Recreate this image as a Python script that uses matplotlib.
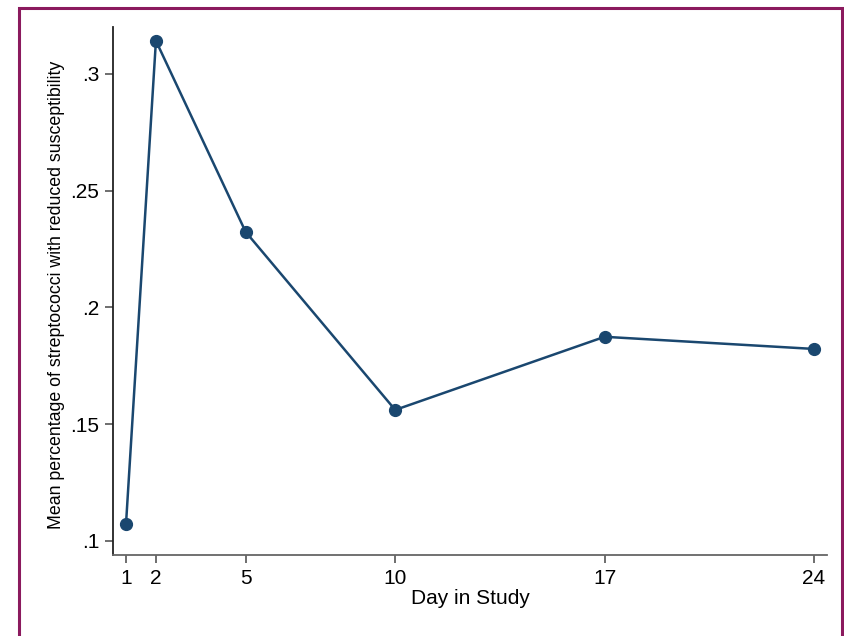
import matplotlib
matplotlib.use('Agg')
import matplotlib.pyplot as plt
from matplotlib.patches import Rectangle

plt.rcParams['font.family'] = ['Liberation Sans', 'DejaVu Sans']

days = [1, 2, 5, 10, 17, 24]
mean_pct = [0.1073, 0.3141, 0.2323, 0.1561, 0.1874, 0.1822]
y_ticks = [0.1, 0.15, 0.2, 0.25, 0.3]
y_tick_labels = ['.1', '.15', '.2', '.25', '.3']

navy = '#1a476f'

fig = plt.figure(figsize=(8.45, 6.36), dpi=100)
ax = fig.add_axes([113 / 845, 1 - 555 / 636, (827 - 113) / 845, (555 - 27) / 636])

ax.plot(days, mean_pct, '-o', color=navy, lw=1.8, ms=8.5, mec=navy, mfc=navy)

ax.set_xlim(0.565, 24.435)
ax.set_ylim(0.094, 0.320)
ax.set_xticks(days)
ax.set_xticklabels([str(d) for d in days])
ax.set_yticks(y_ticks)
ax.set_yticklabels(y_tick_labels)

for s in ['top', 'right']:
    ax.spines[s].set_visible(False)
ax.spines['left'].set_color('#222222')
ax.spines['bottom'].set_color('#666666')
ax.spines['left'].set_linewidth(1.3)
ax.spines['bottom'].set_linewidth(1.3)
ax.tick_params(axis='both', direction='out', length=6, width=1.2, color='#555555',
               labelsize=15, pad=4)

ax.set_xlabel('Day in Study', fontsize=15)
ax.xaxis.set_label_coords(0.5, -0.064)
ax.set_ylabel('Mean percentage of streptococci with reduced susceptibility', fontsize=12.8)
ax.yaxis.set_label_coords(-0.067, 0.492)

# outer border
fig.patches.append(Rectangle((19 / 845, -0.05), (842 - 19) / 845, 1.05 - 8 / 636,
                             transform=fig.transFigure, fill=False,
                             edgecolor='#8b1a5e', lw=2.2))

fig.savefig('out.png', dpi=100)
